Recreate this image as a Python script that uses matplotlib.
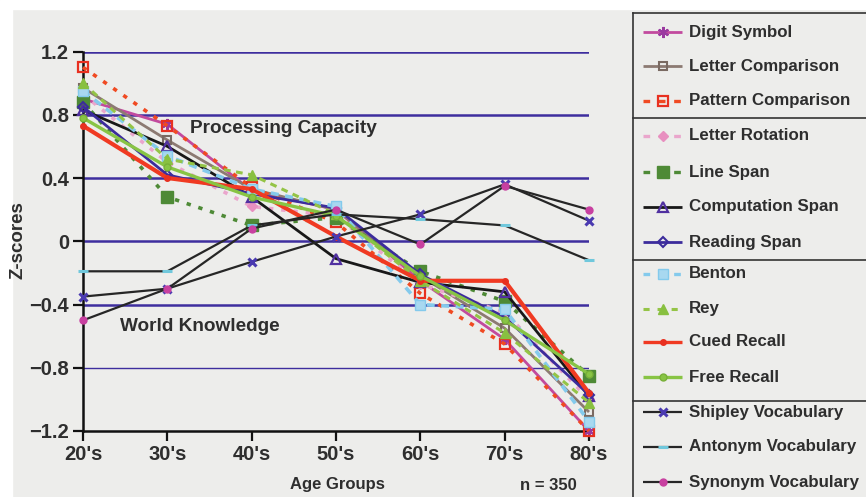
import matplotlib
matplotlib.use("Agg")
import matplotlib.pyplot as plt
from matplotlib.patches import Rectangle

# ---------------- data ----------------
age_groups = ["20's", "30's", "40's", "50's", "60's", "70's", "80's"]
y_ticks = [-1.2, -0.8, -0.4, 0.0, 0.4, 0.8, 1.2]
y_tick_labels = ["\u22121.2", "\u22120.8", "\u22120.4", "0", "0.4", "0.8", "1.2"]

digit_symbol        = [0.90, 0.74, 0.32, 0.20, -0.25, -0.62, -1.20]
letter_comparison   = [0.97, 0.64, 0.33, 0.20, -0.22, -0.55, -1.08]
pattern_comparison  = [1.10, 0.73, 0.34, 0.12, -0.33, -0.65, -1.20]
letter_rotation     = [0.93, 0.50, 0.22, 0.16, -0.27, -0.45, -1.00]
line_span           = [0.88, 0.28, 0.10, 0.15, -0.19, -0.38, -0.85]
computation_span    = [0.83, 0.60, 0.28, -0.11, -0.26, -0.32, -0.98]
reading_span        = [0.85, 0.42, 0.30, 0.21, -0.21, -0.48, -0.97]
benton              = [0.95, 0.54, 0.33, 0.22, -0.40, -0.43, -1.14]
rey                 = [1.00, 0.52, 0.42, 0.17, -0.25, -0.58, -1.02]
cued_recall         = [0.73, 0.40, 0.33, 0.03, -0.25, -0.25, -0.96]
free_recall         = [0.78, 0.47, 0.28, 0.16, -0.22, -0.50, -0.84]
shipley_vocabulary  = [-0.35, -0.30, -0.13, 0.03, 0.17, 0.36, 0.13]
antonym_vocabulary  = [-0.19, -0.19, 0.10, 0.17, 0.14, 0.10, -0.12]
synonym_vocabulary  = [-0.50, -0.30, 0.08, 0.20, -0.02, 0.35, 0.20]

series_names = ["Digit Symbol", "Letter Comparison", "Pattern Comparison",
                "Letter Rotation", "Line Span", "Computation Span", "Reading Span",
                "Benton", "Rey", "Cued Recall", "Free Recall",
                "Shipley Vocabulary", "Antonym Vocabulary", "Synonym Vocabulary"]
series_values = [digit_symbol, letter_comparison, pattern_comparison,
                 letter_rotation, line_span, computation_span, reading_span,
                 benton, rey, cued_recall, free_recall,
                 shipley_vocabulary, antonym_vocabulary, synonym_vocabulary]

# ---------------- styles ----------------
DOT = (0, (1.2, 2.2))
DASH = (0, (2.2, 1.8))
styles = {
    "Digit Symbol":       dict(color="#C24A9E", ls="-", lw=2.0, marker=(6, 2, 0), ms=8, mfc="#B0409A", mec="#9A3AA0", mew=1.5),
    "Letter Comparison":  dict(color="#8C7A72", ls="-", lw=2.0, marker="s", ms=6, mfc="none", mec="#7A6A62", mew=1.5),
    "Pattern Comparison": dict(color="#F04A22", ls=DOT, lw=2.6, marker="s", ms=7, mfc="none", mec="#E83020", mew=1.6),
    "Letter Rotation":    dict(color="#EAA6CC", ls=DOT, lw=2.6, marker="D", ms=5, mfc="#E890C0", mec="#E890C0", mew=1.0),
    "Line Span":          dict(color="#4E8A36", ls=DOT, lw=2.6, marker="s", ms=8, mfc="#4E8A36", mec="#4E8A36", mew=1.0),
    "Computation Span":   dict(color="#181818", ls="-", lw=2.0, marker="^", ms=7, mfc="none", mec="#5030A0", mew=1.6),
    "Reading Span":       dict(color="#3C2C9C", ls="-", lw=2.0, marker="D", ms=5, mfc="none", mec="#3C2C9C", mew=1.5),
    "Benton":             dict(color="#84CAEC", ls=DASH, lw=2.6, marker="s", ms=7, mfc="#A8D8F0", mec="#84CAEC", mew=1.0),
    "Rey":                dict(color="#94C446", ls=DASH, lw=2.2, marker="^", ms=7, mfc="#88C040", mec="#88C040", mew=1.0),
    "Cued Recall":        dict(color="#F03A22", ls="-", lw=3.0, marker="o", ms=4, mfc="#E83020", mec="#E83020", mew=1.0),
    "Free Recall":        dict(color="#88C444", ls="-", lw=2.4, marker="o", ms=5, mfc="#88C444", mec="#78B038", mew=1.0),
    "Shipley Vocabulary": dict(color="#262626", ls="-", lw=1.6, marker="x", ms=6, mfc="#4A3AB0", mec="#4A3AB0", mew=2.2),
    "Antonym Vocabulary": dict(color="#262626", ls="-", lw=1.6, marker="_", ms=7, mfc="#70C8DC", mec="#70C8DC", mew=2.2),
    "Synonym Vocabulary": dict(color="#262626", ls="-", lw=1.6, marker="o", ms=5, mfc="#C840A0", mec="#C840A0", mew=1.0),
}

plt.rcParams["font.family"] = ["Liberation Sans", "DejaVu Sans"]
TXT = "#2E2E2E"
BG = "#EDEDEB"

fig = plt.figure(figsize=(8.66, 4.97), dpi=100, facecolor=BG)
# thin white border at top/left like the scanned original
fig.patches.append(Rectangle((0, 0), 12 / 866, 1, transform=fig.transFigure, color="white", zorder=-5))
fig.patches.append(Rectangle((0, 1 - 9 / 497), 1, 9 / 497, transform=fig.transFigure, color="white", zorder=-5))

ax = fig.add_axes([83 / 866, (497 - 431) / 497, (589 - 83) / 866, (431 - 51.5) / 497])
ax.set_facecolor(BG)
x = list(range(len(age_groups)))

# horizontal grid lines
for yv in y_ticks[1:]:
    lw = 1.0 if abs(yv + 0.8) < 1e-6 else 1.8
    ax.axhline(yv, color="#3E2E9E", lw=lw, zorder=1)

for name, vals in zip(series_names, series_values):
    st = styles[name]
    ax.plot(x, vals, color=st["color"], linestyle=st["ls"], lw=st["lw"],
            marker=st["marker"], ms=st["ms"], mfc=st["mfc"], mec=st["mec"],
            mew=st["mew"], zorder=3, clip_on=False, solid_capstyle="butt")

ax.set_xlim(0, 6)
ax.set_ylim(-1.2, 1.2)
ax.set_xticks(x)
ax.set_xticklabels(age_groups)
ax.set_yticks(y_ticks)
ax.set_yticklabels(y_tick_labels)
for s in ["top", "right"]:
    ax.spines[s].set_visible(False)
for s in ["left", "bottom"]:
    ax.spines[s].set_color("#111111")
    ax.spines[s].set_linewidth(1.8)
ax.tick_params(axis="both", direction="out", length=7, width=1.6, color="#111111",
               labelsize=14.5, labelcolor=TXT, pad=3)
for lab in ax.get_xticklabels() + ax.get_yticklabels():
    lab.set_fontweight("bold")

ax.text(1.27, 0.71, "Processing Capacity", fontsize=13.7, fontweight="bold", color=TXT,
        ha="left", va="center")
ax.text(0.44, -0.54, "World Knowledge", fontsize=13.7, fontweight="bold", color=TXT,
        ha="left", va="center")

fig.text(18 / 866, 1 - 240 / 497, "Z-scores", rotation=90, fontsize=13.5, fontweight="bold",
         color=TXT, ha="center", va="center")
fig.text(337 / 866, 1 - 485 / 497, "Age Groups", fontsize=12, fontweight="bold",
         color=TXT, ha="center", va="center")
fig.text(548 / 866, 1 - 485 / 497, "n = 350", fontsize=12, fontweight="bold",
         color=TXT, ha="center", va="center")

# ---------------- legend panel ----------------
lg = fig.add_axes([0, 0, 1, 1], facecolor="none")
lg.set_xlim(0, 866)
lg.set_ylim(497, 0)
lg.axis("off")
lg.plot([633, 633], [13, 497], color="#333333", lw=1.2)
lg.plot([633, 866], [13, 13], color="#333333", lw=1.2)
for ys in [118, 260, 401]:
    lg.plot([633, 866], [ys, ys], color="#333333", lw=1.2)

entry_y = [32, 66, 101, 136, 172, 207, 242, 274, 309, 342, 377, 412, 447, 482]
legend_ls = {"Pattern Comparison": (0, (2.0, 2.6)), "Letter Rotation": (0, (2.0, 2.6)),
             "Line Span": (0, (2.0, 2.6)), "Benton": (0, (2.0, 2.6)), "Rey": (0, (2.0, 2.6))}
for name, ey in zip(series_names, entry_y):
    st = styles[name]
    ls = legend_ls.get(name, "-")
    lw = min(st["lw"], 2.4)
    lg.plot([643, 682], [ey, ey], color=st["color"], linestyle=ls, lw=lw,
            solid_capstyle="butt")
    lg.plot([662.5], [ey], linestyle="none", marker=st["marker"], ms=st["ms"],
            mfc=st["mfc"], mec=st["mec"], mew=st["mew"])
    lg.text(689, ey, name, fontsize=12.2, fontweight="bold", color=TXT, ha="left",
            va="center")

fig.savefig("out.png", dpi=100, facecolor=BG)
